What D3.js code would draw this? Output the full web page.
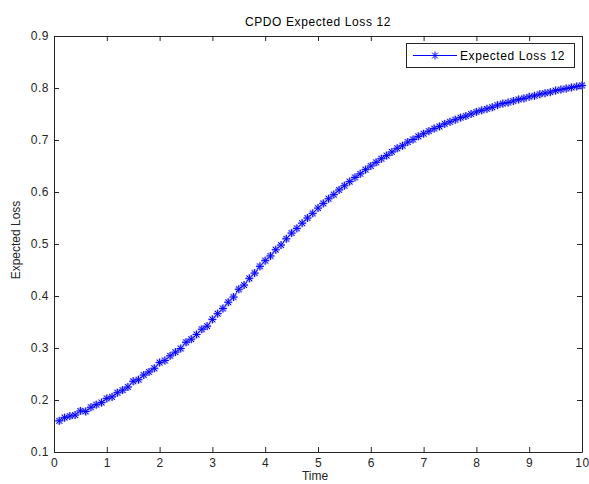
<!DOCTYPE html>
<html>
<head>
<meta charset="utf-8">
<script src="https://cdn.jsdelivr.net/npm/d3@7"></script>
<style>
  html, body { margin: 0; padding: 0; background: #fff; }
  svg { display: block; font-family: "Liberation Sans", Arial, sans-serif; }
</style>
</head>
<body>
<svg id="chart" width="589" height="484"></svg>
<script>
// Time grid (years) and the expected loss at each step
const times = d3.range(1, 101).map(i => i / 10);
const expectedLoss = [
  0.160, 0.166, 0.169, 0.171, 0.179, 0.178, 0.186, 0.191, 0.195, 0.203,
  0.206, 0.214, 0.219, 0.225, 0.236, 0.239, 0.248, 0.254, 0.261, 0.272,
  0.276, 0.285, 0.292, 0.299, 0.311, 0.317, 0.326, 0.336, 0.342, 0.355,
  0.366, 0.376, 0.388, 0.398, 0.413, 0.421, 0.434, 0.444, 0.457, 0.468,
  0.477, 0.489, 0.498, 0.510, 0.521, 0.530, 0.540, 0.550, 0.559, 0.569,
  0.578, 0.587, 0.595, 0.604, 0.612, 0.620, 0.628, 0.635, 0.643, 0.650,
  0.657, 0.664, 0.670, 0.677, 0.684, 0.689, 0.696, 0.701, 0.707, 0.712,
  0.717, 0.722, 0.726, 0.731, 0.735, 0.739, 0.743, 0.746, 0.750, 0.754,
  0.757, 0.760, 0.763, 0.767, 0.770, 0.772, 0.775, 0.778, 0.780, 0.783,
  0.785, 0.788, 0.790, 0.792, 0.795, 0.797, 0.799, 0.801, 0.803, 0.805
];
const xTicks = [0, 1, 2, 3, 4, 5, 6, 7, 8, 9, 10];
const yTicks = [0.1, 0.2, 0.3, 0.4, 0.5, 0.6, 0.7, 0.8, 0.9];
const seriesName = "Expected Loss 12";

const svg = d3.select("#chart");
const margin = { left: 54, top: 36, right: 7, bottom: 32 };
const W = 589, H = 484;
const x = d3.scaleLinear().domain([0, 10]).range([margin.left, W - margin.right]);
const y = d3.scaleLinear().domain([0.1, 0.9]).range([H - margin.bottom, margin.top]);

const axisColor = "#262626";
const fontFamily = "Liberation Sans, Arial, sans-serif";

// Axes with inward ticks on all four sides
const gx = svg.append("g").attr("transform", `translate(0,${y(0.1)})`)
  .call(d3.axisBottom(x).tickValues(xTicks).tickSizeInner(-5).tickSizeOuter(0).tickPadding(6).tickFormat(d3.format("d")));
const gxTop = svg.append("g").attr("transform", `translate(0,${y(0.9)})`)
  .call(d3.axisTop(x).tickValues(xTicks).tickSizeInner(-5).tickSizeOuter(0).tickFormat(""));
const gy = svg.append("g").attr("transform", `translate(${x(0)},0)`)
  .call(d3.axisLeft(y).tickValues(yTicks).tickSizeInner(-5).tickSizeOuter(0).tickPadding(5).tickFormat(d3.format(".1f")));
const gyRight = svg.append("g").attr("transform", `translate(${x(10)},0)`)
  .call(d3.axisRight(y).tickValues(yTicks).tickSizeInner(-5).tickSizeOuter(0).tickFormat(""));

[gx, gxTop, gy, gyRight].forEach(g => {
  g.select(".domain").attr("stroke", axisColor);
  g.selectAll(".tick line").attr("stroke", axisColor);
  g.selectAll(".tick text").attr("fill", axisColor).style("font-size", "12px")
    .style("letter-spacing", "0.5px").style("font-family", fontFamily);
});

// Data line
const line = d3.line().x((d, i) => x(times[i])).y(d => y(d));
svg.append("path").datum(expectedLoss)
  .attr("fill", "none").attr("stroke", "#0000ff").attr("stroke-width", 1).attr("d", line);

// Asterisk marker: plus + cross
function asterisk(r) {
  const d = r * 0.72;
  return `M${-r},0H${r}M0,${-r}V${r}M${-d},${-d}L${d},${d}M${-d},${d}L${d},${-d}`;
}
const pts = svg.append("g");
pts.selectAll("path.halo").data(expectedLoss).join("path")
  .attr("class", "halo")
  .attr("transform", (d, i) => `translate(${x(times[i])},${y(d)})`)
  .attr("d", asterisk(4)).attr("stroke", "#8c8cff").attr("stroke-width", 2.2)
  .attr("stroke-opacity", 0.6).attr("fill", "none");
pts.selectAll("path.mark").data(expectedLoss).join("path")
  .attr("class", "mark")
  .attr("transform", (d, i) => `translate(${x(times[i])},${y(d)})`)
  .attr("d", asterisk(4)).attr("stroke", "#0000ff").attr("stroke-width", 1).attr("fill", "none");

// Title and axis labels
svg.append("text").attr("x", (x(0) + x(10)) / 2).attr("y", 26).attr("text-anchor", "middle")
  .attr("fill", "#000").style("font-size", "12px").style("letter-spacing", "0.6px")
  .text("CPDO Expected Loss 12");
svg.append("text").attr("x", (x(0) + x(10)) / 2 - 3).attr("y", 480).attr("text-anchor", "middle")
  .attr("fill", axisColor).style("font-size", "12px").text("Time");
svg.append("text").attr("transform", `translate(20,${(y(0.1) + y(0.9)) / 2 - 4}) rotate(-90)`)
  .attr("text-anchor", "middle").attr("fill", axisColor).style("font-size", "12px").text("Expected Loss");

// Legend
const lg = svg.append("g");
lg.append("rect").attr("x", 406.5).attr("y", 43.5).attr("width", 168).attr("height", 24)
  .attr("fill", "#fff").attr("stroke", axisColor);
lg.append("line").attr("x1", 413).attr("x2", 457).attr("y1", 55.5).attr("y2", 55.5)
  .attr("stroke", "#0000ff");
lg.append("path").attr("transform", "translate(435,55.5)").attr("d", asterisk(4))
  .attr("stroke", "#0000ff").attr("fill", "none");
lg.append("text").attr("x", 460).attr("y", 60).attr("fill", "#000").style("font-size", "12px")
  .style("letter-spacing", "0.6px").text(seriesName);
</script>
</body>
</html>
